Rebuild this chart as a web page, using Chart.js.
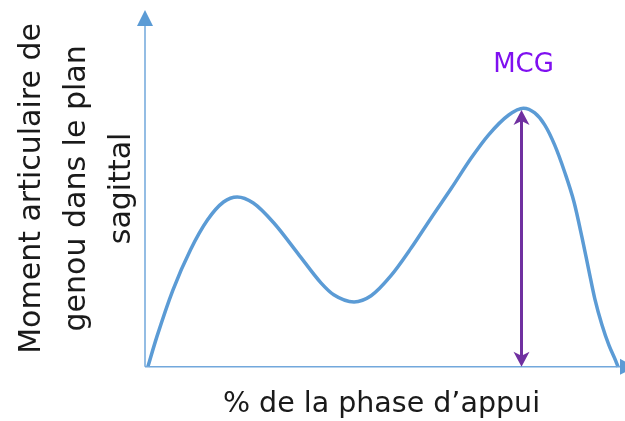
<!DOCTYPE html>
<html>
<head>
<meta charset="utf-8">
<script src="https://cdn.jsdelivr.net/npm/chart.js@4"></script>
<style>
  html, body { margin: 0; padding: 0; background: #ffffff; }
  #wrap { width: 625px; height: 421px; }
</style>
</head>
<body>
<div id="wrap"><canvas id="c" width="625" height="421"></canvas></div>
<script>
// Data (x: % of stance phase, y: relative moment)
const phasePct = [0.6, 2.5, 5.9, 9.6, 13.2, 16.6, 19.5, 22.9, 27.2, 32.3, 37.2, 39.9, 44.2, 47.8, 52.0, 56.3, 60.5, 64.8, 69.0, 72.6, 76.9, 80.0, 82.4, 84.5, 86.6, 88.7, 90.7, 92.4, 93.8, 95.1, 96.6, 98.1, 99.5, 100];
const momentVal = [0, 8.8, 22.6, 34.4, 43.2, 48.5, 50.0, 48.2, 42.4, 33.4, 24.7, 21.2, 19.1, 20.9, 26.8, 35.0, 43.8, 52.6, 61.5, 68.2, 74.1, 76.1, 74.7, 71.2, 65.3, 57.4, 48.5, 38.0, 28.6, 20.0, 12.4, 6.3, 1.8, 0];
const mcgX = [79.6];
const mcgValue = [75.6];
const mcgLabel = ['MCG'];
const xTitle = '% de la phase d\u2019appui';
const yTitle = ['Moment articulaire de', 'genou dans le plan', 'sagittal'];

const points = phasePct.map((x, i) => ({ x: x, y: momentVal[i] }));

const AXIS_COLOR = '#72a8dc';
const CURVE_COLOR = '#5b9bd5';
const MCG_COLOR = '#7030a0';

const decor = {
  id: 'decor',
  afterDatasetsDraw(chart) {
    const ctx = chart.ctx;
    const a = chart.chartArea;
    const xs = chart.scales.x, ys = chart.scales.y;
    ctx.save();
    // axes lines
    ctx.strokeStyle = AXIS_COLOR;
    ctx.lineWidth = 1.5;
    ctx.beginPath();
    ctx.moveTo(a.left, a.bottom);
    ctx.lineTo(a.left, a.top + 14);
    ctx.moveTo(a.left, a.bottom);
    ctx.lineTo(a.right + 4, a.bottom);
    ctx.stroke();
    // arrow heads of axes
    ctx.fillStyle = CURVE_COLOR;
    ctx.beginPath();
    ctx.moveTo(a.left, a.top);
    ctx.lineTo(a.left - 8, a.top + 16);
    ctx.lineTo(a.left + 8, a.top + 16);
    ctx.closePath();
    ctx.fill();
    ctx.beginPath();
    ctx.moveTo(a.right + 17, a.bottom);
    ctx.lineTo(a.right + 2, a.bottom - 8);
    ctx.lineTo(a.right + 2, a.bottom + 8);
    ctx.closePath();
    ctx.fill();

    // MCG double arrow
    for (let i = 0; i < mcgX.length; i++) {
      const px = xs.getPixelForValue(mcgX[i]);
      const pTop = ys.getPixelForValue(mcgValue[i]);
      const pBot = ys.getPixelForValue(0);
      ctx.strokeStyle = MCG_COLOR;
      ctx.fillStyle = MCG_COLOR;
      ctx.lineWidth = 3;
      ctx.beginPath();
      ctx.moveTo(px, pTop + 10);
      ctx.lineTo(px, pBot - 10);
      ctx.stroke();
      const hw = 8, hh = 15, notch = 4;
      ctx.beginPath();
      ctx.moveTo(px, pTop);
      ctx.lineTo(px - hw, pTop + hh);
      ctx.lineTo(px, pTop + hh - notch);
      ctx.lineTo(px + hw, pTop + hh);
      ctx.closePath();
      ctx.fill();
      ctx.beginPath();
      ctx.moveTo(px, pBot);
      ctx.lineTo(px - hw, pBot - hh);
      ctx.lineTo(px, pBot - hh + notch);
      ctx.lineTo(px + hw, pBot - hh);
      ctx.closePath();
      ctx.fill();
      // label
      ctx.fillStyle = '#7f10f0';
      ctx.font = '26px "DejaVu Sans"';
      ctx.textAlign = 'center';
      ctx.textBaseline = 'middle';
      ctx.fillText(mcgLabel[i], px + 2, pTop - 45);
    }
    ctx.restore();
  }
};

new Chart(document.getElementById('c'), {
  type: 'line',
  data: {
    datasets: [{
      data: points,
      borderColor: CURVE_COLOR,
      borderWidth: 3.5,
      pointRadius: 0,
      fill: false,
      cubicInterpolationMode: 'monotone',
      clip: false
    }]
  },
  options: {
    responsive: false,
    animation: false,
    events: [],
    layout: { padding: { top: 10, right: 7, left: 0, bottom: 0 } },
    plugins: { legend: { display: false }, tooltip: { enabled: false } },
    scales: {
      x: {
        type: 'linear', min: 0, max: 100,
        grid: { display: false, drawTicks: false },
        border: { display: false },
        ticks: { display: false },
        title: {
          display: true, text: xTitle, color: '#1a1a1a',
          font: { family: 'DejaVu Sans', size: 28.5, lineHeight: 1.2 },
          padding: { top: 21, bottom: -1 }
        }
      },
      y: {
        type: 'linear', min: 0, max: 105,
        grid: { display: false, drawTicks: false },
        border: { display: false },
        ticks: { display: false },
        title: {
          display: true, text: yTitle, color: '#1a1a1a',
          font: { family: 'DejaVu Sans', size: 30, lineHeight: 1.5 },
          padding: { top: 10, bottom: 0 }
        }
      }
    }
  },
  plugins: [decor]
});
</script>
</body>
</html>
